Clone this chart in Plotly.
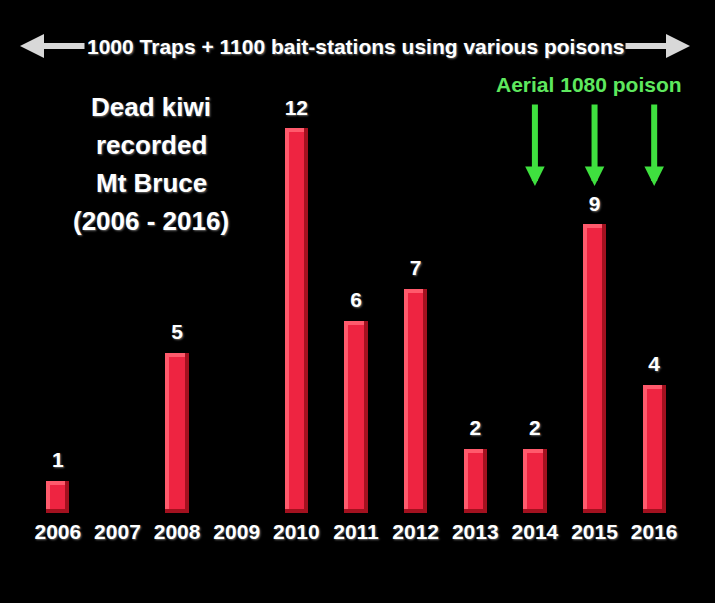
import plotly.graph_objects as go

# ---- data ----
years = ["2006", "2007", "2008", "2009", "2010", "2011", "2012", "2013", "2014", "2015", "2016"]
dead_kiwi = [1, None, 5, None, 12, 6, 7, 2, 2, 9, 4]
aerial_years = ["2014", "2015", "2016"]
top_banner = "1000 Traps + 1100 bait-stations using various poisons"
title_lines = ["Dead kiwi", "recorded", "Mt Bruce", "(2006 - 2016)"]
aerial_label = "Aerial 1080 poison"

# ---- layout geometry ----
W, H = 715, 603
ML, MR, MT, MB = 28, 31, 0, 90
PW, PH = W - ML - MR, H - MT - MB
YMAX = 16.0
FONT = "Liberation Sans, Arial, sans-serif"

def px(x):
    return (x - ML) / PW

def py(y):
    return (H - MB - y) / PH

BW = 0.39                 # bar width (category units)
DX = 4.0 / (PW / 11)      # bevel in category units
DY = 4.0 / (PH / YMAX)    # bevel in data units
LABEL_OFF = 19.0 / (PH / YMAX)

vals = [v if v else None for v in dead_kiwi]
base1 = [DY if v else None for v in vals]
h1 = [v - DY if v else None for v in vals]
h2 = [v - 2 * DY if v else None for v in vals]

shadow = "1px 1px 2px #666"
fig = go.Figure()
fig.add_trace(go.Bar(
    x=years, y=vals, width=BW, marker=dict(color="#a3111f", line=dict(width=0)),
    hoverinfo="skip", showlegend=False))
fig.add_trace(go.Bar(
    x=years, y=h1, base=base1, width=BW - DX, offset=-BW / 2,
    marker=dict(color="#ff5a6c", line=dict(width=0)), hoverinfo="skip", showlegend=False))
fig.add_trace(go.Bar(
    x=years, y=h2, base=base1, width=BW - 2 * DX, offset=-BW / 2 + DX,
    marker=dict(color="#ee2441", line=dict(width=0)), hoverinfo="skip", showlegend=False))
# value labels
fig.add_trace(go.Scatter(
    x=[y for y, v in zip(years, vals) if v], y=[v + LABEL_OFF for v in vals if v],
    text=[str(v) for v in vals if v], mode="text", textposition="middle center",
    textfont=dict(family=FONT, size=21, color="white", weight="bold", shadow=shadow),
    cliponaxis=False, hoverinfo="skip", showlegend=False))

annotations = []
annotations.append(dict(text=top_banner, xref="paper", yref="paper", x=px(355), y=py(46),
                        showarrow=False, xanchor="center", yanchor="middle",
                        font=dict(family=FONT, size=21, color="white", weight="bold", shadow=shadow)))
for tip, tail in [(20, 86), (690, 624)]:
    annotations.append(dict(text="", xref="paper", yref="paper", x=px(tip), y=py(46),
                            ax=tail - tip, ay=0, showarrow=True, arrowhead=2, arrowsize=0.8,
                            arrowwidth=6, arrowcolor="#d8d8d8"))
for i, line in enumerate(title_lines):
    annotations.append(dict(text=line, xref="paper", yref="paper", x=px(151), y=py(107 + 38 * i),
                            showarrow=False, xanchor="center", yanchor="middle",
                            font=dict(family=FONT, size=26, color="white", weight="bold", shadow=shadow)))
annotations.append(dict(text=aerial_label, xref="paper", yref="paper", x=px(589), y=py(84),
                        showarrow=False, xanchor="center", yanchor="middle",
                        font=dict(family=FONT, size=21, color="#5ee85e", weight="bold")))
for yr in aerial_years:
    annotations.append(dict(text="", x=years.index(yr), xref="x", yref="paper", y=py(186),
                            ax=0, ay=-83, showarrow=True, arrowhead=2, arrowsize=0.65,
                            arrowwidth=6, arrowcolor="#3fe03f"))

fig.update_layout(
    width=W, height=H,
    margin=dict(l=ML, r=MR, t=MT, b=MB),
    paper_bgcolor="black", plot_bgcolor="black",
    barmode="overlay", bargap=0,
    annotations=annotations,
    xaxis=dict(type="category", categoryorder="array", categoryarray=years,
               range=[-0.5, 10.5], showgrid=False, zeroline=False, showline=False, ticks="",
               tickfont=dict(family=FONT, size=21, color="white", weight="bold", shadow=shadow),
               ticklabelstandoff=4),
    yaxis=dict(range=[0, YMAX], visible=False, showgrid=False, zeroline=False),
    showlegend=False,
)

fig.write_html("out.html")
